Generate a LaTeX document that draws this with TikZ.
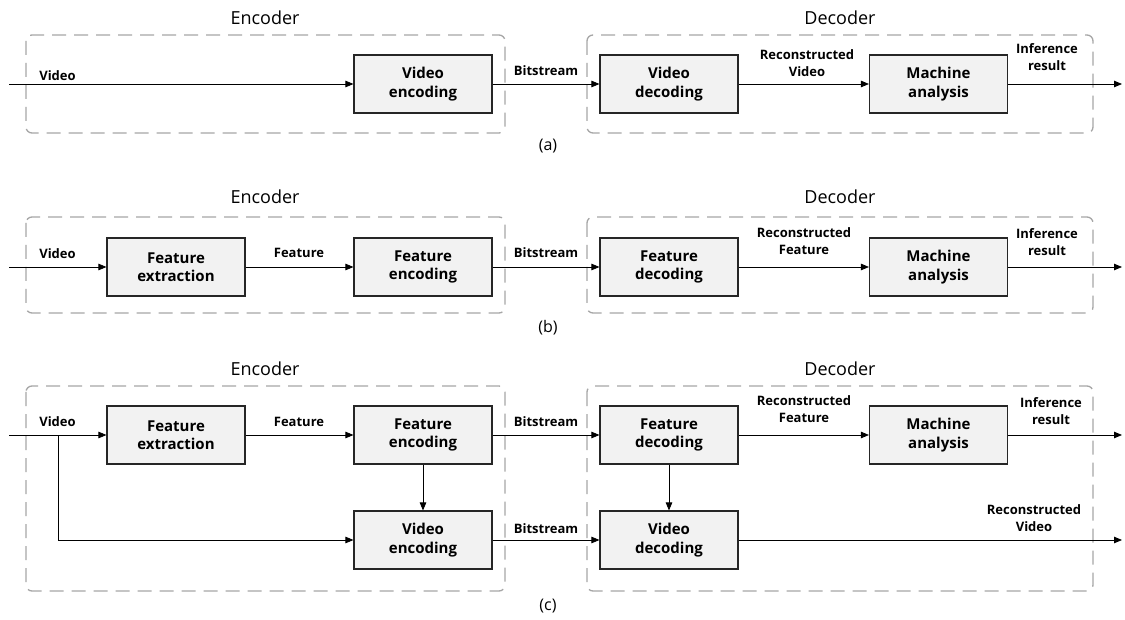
\documentclass[tikz,border=0pt]{standalone}
\usepackage{fontspec}
\setmainfont{Open Sans}
\usetikzlibrary{arrows.meta}
\definecolor{dashgray}{HTML}{A6A6A6}
\definecolor{boxfill}{HTML}{F2F2F2}
\begin{document}
\begin{tikzpicture}[x=1pt,y=-1pt,
 blk/.style={draw=black!85, line width=1.1pt, fill=boxfill, minimum width=138pt, minimum height=58pt, align=center, font=\fontsize{15}{18.5}\selectfont\bfseries, inner sep=0pt},
 grp/.style={draw=dashgray, line width=1.3pt, dash pattern=on 14pt off 8pt, rounded corners=6pt},
 ttl/.style={font=\fontsize{18}{20}\selectfont, inner sep=0pt},
 lbl/.style={font=\fontsize{13}{17}\selectfont\bfseries, align=center, inner sep=0pt},
 capt/.style={font=\fontsize{16}{18}\selectfont, inner sep=0pt},
 arr/.style={line width=0.8pt, -{Triangle[length=8pt,width=6.5pt]}},
 ln/.style={line width=0.8pt}]
\useasboundingbox (0,0) rectangle (1125,620);
\fill[white] (0,0) rectangle (1125,620);

% ---------------- panel (a) ----------------
\node[ttl] (aencT) at (265,18) {Encoder};
\node[ttl] (adecT) at (840,18) {Decoder};
\draw[grp] (26,35) rectangle (505,133);
\draw[grp] (587,35) rectangle (1093,133);
\node[blk] (aenc) at (423,84) {Video\\encoding};
\node[blk] (adec) at (669,84) {Video\\decoding};
\node[blk] (aman) at (938.5,84) {Machine\\analysis};
\coordinate (ain) at (9,84);
\coordinate (aout) at (1122,84);
\draw[arr] (ain) -- (aenc.west);
\draw[arr] (aenc.east) -- (adec.west);
\draw[arr] (adec.east) -- (aman.west);
\draw[arr] (aman.east) -- (aout);
\node[lbl] (avid) at (57.5,76) {Video};
\node[lbl] (abit) at (546,71) {Bitstream};
\node[lbl] (arec) at (807,63.5) {Reconstructed\\Video};
\node[lbl] (ainf) at (1047,57.5) {Inference\\result};
\node[capt] (acap) at (548,146) {(a)};

% ---------------- panel (b) ----------------
\node[ttl] (bencT) at (265,197) {Encoder};
\node[ttl] (bdecT) at (840,197) {Decoder};
\draw[grp] (26,217) rectangle (505,313);
\draw[grp] (587,217) rectangle (1093,313);
\node[blk] (bfex) at (176,267) {Feature\\extraction};
\node[blk] (bfenc) at (423,267) {Feature\\encoding};
\node[blk] (bfdec) at (669,267) {Feature\\decoding};
\node[blk] (bman) at (938.5,267) {Machine\\analysis};
\coordinate (bin) at (9,267);
\coordinate (bout) at (1122,267);
\draw[arr] (bin) -- (bfex.west);
\draw[arr] (bfex.east) -- (bfenc.west);
\draw[arr] (bfenc.east) -- (bfdec.west);
\draw[arr] (bfdec.east) -- (bman.west);
\draw[arr] (bman.east) -- (bout);
\node[lbl] (bvid) at (57.5,254) {Video};
\node[lbl] (bfeat) at (299,253) {Feature};
\node[lbl] (bbit) at (546,253) {Bitstream};
\node[lbl] (brec) at (804,241.5) {Reconstructed\\Feature};
\node[lbl] (binf) at (1047,242) {Inference\\result};
\node[capt] (bcap) at (548,328) {(b)};

% ---------------- panel (c) ----------------
\node[ttl] (cencT) at (265,369) {Encoder};
\node[ttl] (cdecT) at (840,369) {Decoder};
\draw[grp] (26,386) rectangle (505,591);
\draw[grp] (587,386) rectangle (1093,591);
\node[blk] (cfex) at (176,435) {Feature\\extraction};
\node[blk] (cfenc) at (423,435) {Feature\\encoding};
\node[blk] (cvenc) at (423,540) {Video\\encoding};
\node[blk] (cfdec) at (669,435) {Feature\\decoding};
\node[blk] (cvdec) at (669,540) {Video\\decoding};
\node[blk] (cman) at (938.5,435) {Machine\\analysis};
\coordinate (cin) at (9,435);
\coordinate (cbr) at (58,435);
\coordinate (cout1) at (1122,435);
\coordinate (cout2) at (1122,540);
\draw[arr] (cin) -- (cfex.west);
\draw[arr] (cbr) |- (cvenc.west);
\draw[arr] (cfex.east) -- (cfenc.west);
\draw[arr] (cfenc.south) -- (cvenc.north);
\draw[arr] (cfenc.east) -- (cfdec.west);
\draw[arr] (cvenc.east) -- (cvdec.west);
\draw[arr] (cfdec.south) -- (cvdec.north);
\draw[arr] (cfdec.east) -- (cman.west);
\draw[arr] (cman.east) -- (cout1);
\draw[arr] (cvdec.east) -- (cout2);
\node[lbl] (cvid) at (57.5,422) {Video};
\node[lbl] (cfeat) at (299,422) {Feature};
\node[lbl] (cbit1) at (546,422) {Bitstream};
\node[lbl] (cbit2) at (546,529) {Bitstream};
\node[lbl] (crecf) at (804,409.5) {Reconstructed\\Feature};
\node[lbl] (cinf) at (1051,411.5) {Inference\\result};
\node[lbl] (crecv) at (1034,518.5) {Reconstructed\\Video};
\node[capt] (ccap) at (548,606) {(c)};
\end{tikzpicture}
\end{document}
